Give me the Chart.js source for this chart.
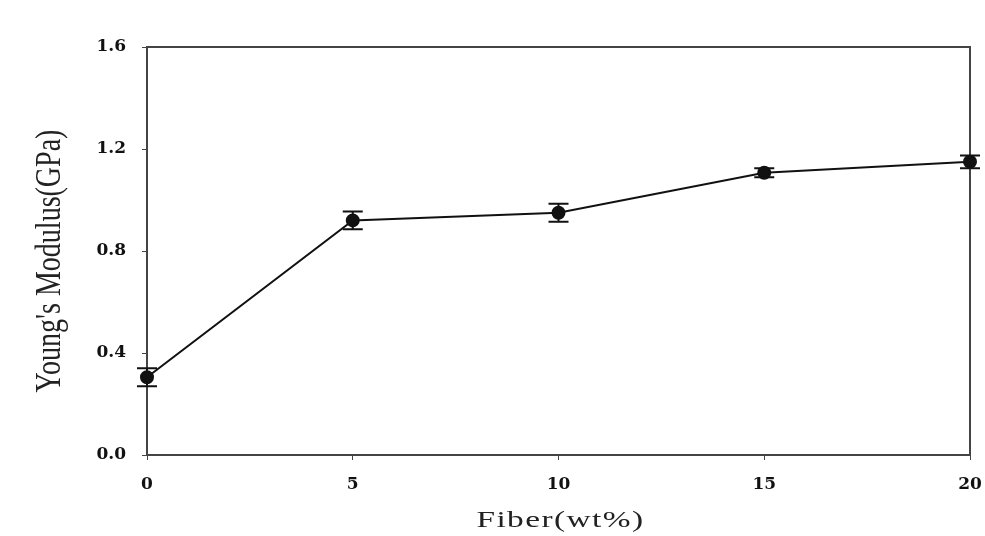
<!DOCTYPE html>
<html>
<head>
<meta charset="utf-8">
<script src="https://cdn.jsdelivr.net/npm/chart.js@4/dist/chart.umd.min.js"></script>
<style>
    html, body { margin: 0; padding: 0; background: #fff; }
    #wrap { width: 985px; height: 536px; }
</style>
</head>
<body>
<div id="wrap"><canvas id="graf-modulo"></canvas></div>
<script>
// dados
var fibra = [0, 5, 10, 15, 20]
var modulo = [0.305, 0.92, 0.95, 1.107, 1.15]
var erro = [0.035, 0.035, 0.035, 0.018, 0.025]
var ticksX = [0, 5, 10, 15, 20]
var ticksY = [0.0, 0.4, 0.8, 1.2, 1.6]
var tituloX = 'Fiber(wt%)'
var tituloY = "Young's Modulus(GPa)"

// barras de erro desenhadas pelas escalas do proprio grafico
var barrasErro = {
    id: 'barrasErro',
    afterDatasetsDraw: function(chart){
        var ctx = chart.ctx
        var sx = chart.scales.x
        var sy = chart.scales.y
        ctx.save()
        ctx.strokeStyle = '#111'
        ctx.lineWidth = 2
        fibra.forEach(function(val, i){
            var x = sx.getPixelForValue(val)
            var y1 = sy.getPixelForValue(modulo[i] + erro[i])
            var y2 = sy.getPixelForValue(modulo[i] - erro[i])
            ctx.beginPath()
            ctx.moveTo(x, y1); ctx.lineTo(x, y2)
            ctx.moveTo(x - 10, y1); ctx.lineTo(x + 10, y1)
            ctx.moveTo(x - 10, y2); ctx.lineTo(x + 10, y2)
            ctx.stroke()
        })
        ctx.restore()
    }
}

// moldura do grafico e titulos dos eixos (esticados como no original)
var moldura = {
    id: 'moldura',
    beforeDatasetsDraw: function(chart){
        var a = chart.chartArea
        var ctx = chart.ctx
        ctx.save()
        ctx.strokeStyle = '#444'
        ctx.lineWidth = 2
        ctx.strokeRect(a.left, a.top, a.right - a.left, a.bottom - a.top)
        ctx.restore()
    },
    afterDraw: function(chart){
        var a = chart.chartArea
        var ctx = chart.ctx
        ctx.save()
        ctx.fillStyle = '#222'
        ctx.textAlign = 'center'
        ctx.textBaseline = 'alphabetic'
        // titulo x
        ctx.save()
        ctx.translate((a.left + a.right) / 2 + 2, 527)
        ctx.scale(1.45, 1)
        ctx.font = '23px "Liberation Serif", serif'
        try{ ctx.letterSpacing = '1px' }catch(e){}
        ctx.fillText(tituloX, 0, 0)
        ctx.restore()
        // titulo y
        ctx.save()
        ctx.translate(60, 261)
        ctx.rotate(-Math.PI / 2)
        ctx.scale(1, 1.3)
        ctx.font = '28px "Liberation Serif", serif'
        ctx.fillText(tituloY, 0, 0)
        ctx.restore()
        ctx.restore()
    }
}

var fonteTick = { family: '"DejaVu Serif", "Liberation Serif", serif', size: 17, weight: 'bold' }

new Chart(
    document.getElementById('graf-modulo').getContext('2d'),
    {
        type: 'line',
        data: {
            datasets: [
                {
                    data: fibra.map(function(v, i){ return { x: v, y: modulo[i] } }),
                    borderColor: '#111',
                    borderWidth: 2,
                    backgroundColor: '#111',
                    pointRadius: 6,
                    pointBackgroundColor: '#111',
                    pointBorderColor: '#111',
                    tension: 0,
                    clip: false
                }
            ]
        },
        options: {
            responsive: true,
            maintainAspectRatio: false,
            animation: false,
            layout: { padding: { left: 0, top: 47, right: 15, bottom: 0 } },
            plugins: {
                legend: { display: false },
                tooltip: { enabled: false }
            },
            scales: {
                x: {
                    type: 'linear',
                    min: 0, max: 20,
                    afterBuildTicks: function(axis){ axis.ticks = ticksX.map(function(v){ return { value: v } }) },
                    afterFit: function(axis){
                        axis.height = 81
                        axis.paddingLeft = 0
                        axis.paddingRight = 0
                    },
                    grid: { display: true, drawOnChartArea: false, tickLength: 5, color: '#444' },
                    border: { color: '#444', width: 2 },
                    ticks: { color: '#111', font: fonteTick, padding: 14, maxRotation: 0 }
                },
                y: {
                    min: 0, max: 1.6,
                    afterBuildTicks: function(axis){ axis.ticks = ticksY.map(function(v){ return { value: v } }) },
                    afterFit: function(axis){ axis.width = 147 },
                    grid: { display: true, drawOnChartArea: false, tickLength: 5, color: '#444' },
                    border: { color: '#444', width: 2 },
                    ticks: {
                        color: '#111', font: fonteTick, padding: 16,
                        callback: function(v){ return Number(v).toFixed(1) }
                    }
                }
            }
        },
        plugins: [moldura, barrasErro]
    }
)
</script>
</body>
</html>
